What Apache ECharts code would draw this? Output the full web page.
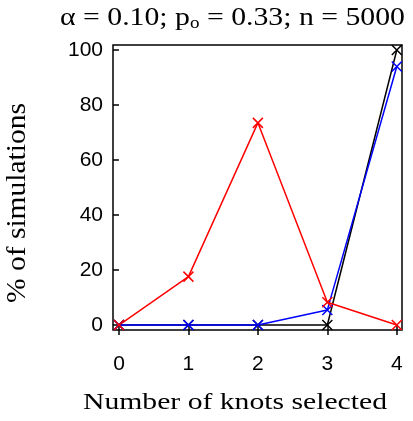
<!DOCTYPE html>
<html>
<head>
<meta charset="utf-8">
<script src="https://cdn.jsdelivr.net/npm/echarts@6/dist/echarts.min.js"></script>
<style>
  html, body { margin: 0; padding: 0; background: #fff; }
  #main { width: 413px; height: 421px; }
</style>
</head>
<body>
<div id="main"></div>
<script>
// number of knots selected
var knots = [0, 1, 2, 3, 4];
// % of simulations, one array per method
var redVals = [0, 17.6, 73.5, 8.3, 0];
var blueVals = [0, 0, 0, 5.5, 94];
var blackVals = [0, 0, 0, 0, 100];
var yTicks = [0, 20, 40, 60, 80, 100];

function pairs(vals) {
    return knots.map(function (k, i) { return [k, vals[i]]; });
}

var cross = 'path://M0,0L10,10M10,0L0,10';

function lineSeries(name, vals, color) {
    return {
        name: name,
        type: 'line',
        data: pairs(vals),
        symbol: cross,
        symbolSize: 10,
        showAllSymbol: true,
        lineStyle: { color: color, width: 1.5 },
        itemStyle: { color: color, borderColor: color, borderWidth: 1.5 },
        emphasis: { disabled: true }
    };
}

var serif = '"Liberation Serif", "Times New Roman", serif';
var sans = '"Liberation Sans", Arial, sans-serif';

// text measuring, used to stretch the serif texts like in the original image
var ctx = document.createElement('canvas').getContext('2d');
function textW(str, font) {
    ctx.font = font;
    return ctx.measureText(str).width;
}

// title: α = 0.10; p_o = 0.33; n = 5000  (y = top of the text box)
var tFont = '25px ' + serif;
var sFont = '16px ' + serif;
var parts = [
    { t: 'α = 0.10; p', f: tFont, top: 5.5 },
    { t: 'o', f: sFont, top: 15.5 },
    { t: ' = 0.33; n = 5000', f: tFont, top: 5.5 }
];
var natural = parts.reduce(function (s, p) { return s + textW(p.t, p.f); }, 0);
var tScale = (405 - 60) / natural;
var titleEls = [];
var cx = 60;
parts.forEach(function (p) {
    titleEls.push({
        type: 'text',
        x: cx, y: p.top,
        scaleX: tScale,
        style: { text: p.t, font: p.f, fill: '#000', textAlign: 'left', textVerticalAlign: 'top' }
    });
    cx += textW(p.t, p.f) * tScale;
});

var yName = '% of simulations';
var yFont = '27px ' + serif;
var yScale = (303 - 103) / textW(yName, yFont);

var xName = 'Number of knots selected';
var xFont = '24px ' + serif;
var xScale = (387 - 83) / textW(xName, xFont);

var myChart = echarts.init(document.getElementById('main'));

var option = {
    animation: false,
    grid: {
        left: 113, right: 11, top: 45, bottom: 91,
        show: true, borderColor: '#000', borderWidth: 1.5
    },
    xAxis: {
        type: 'value',
        min: -0.086,
        max: 4.075,
        offset: 3,
        axisLine: { show: false },
        splitLine: { show: false },
        axisTick: { show: true, length: 10, lineStyle: { color: '#000', width: 1.5 }, customValues: knots },
        axisLabel: { fontFamily: sans, fontSize: 21, color: '#000', margin: 21, customValues: knots }
    },
    yAxis: {
        type: 'value',
        min: -1.8,
        max: 101.8,
        offset: 2,
        axisLine: { show: false },
        splitLine: { show: false },
        axisTick: { show: true, length: 6, lineStyle: { color: '#000', width: 1.5 }, customValues: yTicks },
        axisLabel: { fontFamily: sans, fontSize: 21, color: '#000', margin: 8, customValues: yTicks }
    },
    graphic: titleEls.concat([
        {
            type: 'text',
            x: 18, y: 203,
            rotation: Math.PI / 2,
            scaleX: yScale,
            style: { text: yName, font: yFont, fill: '#000', textAlign: 'center', textVerticalAlign: 'middle' }
        },
        {
            type: 'text',
            x: 83, y: 391,
            scaleX: xScale,
            style: {
                text: xName,
                font: xFont,
                fill: '#000',
                textAlign: 'left',
                textVerticalAlign: 'top'
            }
        }
    ]),
    series: [
        lineSeries('black', blackVals, '#000'),
        lineSeries('blue', blueVals, '#0000ff'),
        lineSeries('red', redVals, '#ff0000')
    ]
};

myChart.setOption(option);
</script>
</body>
</html>
